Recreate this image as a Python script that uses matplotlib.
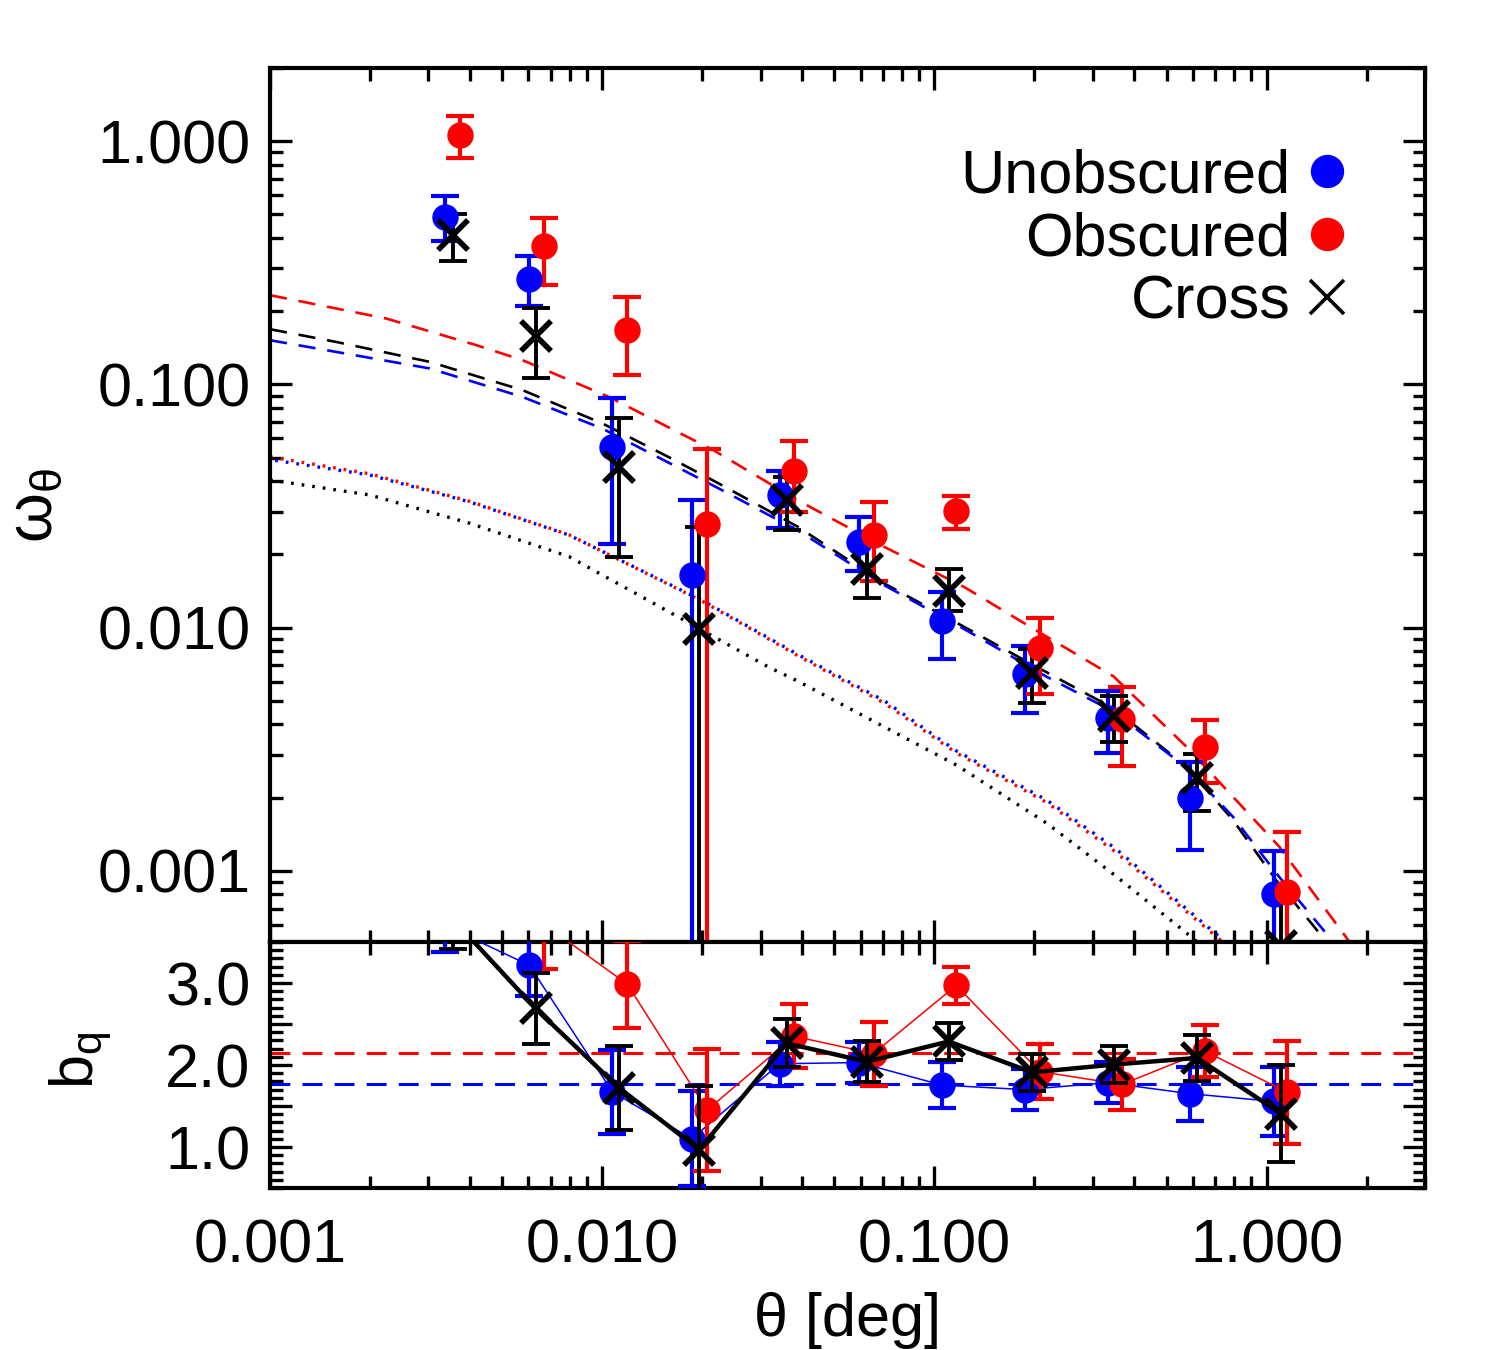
import matplotlib
matplotlib.use('Agg')
import matplotlib.pyplot as plt
import numpy as np
from matplotlib.lines import Line2D
from matplotlib.ticker import FixedLocator, NullFormatter, FuncFormatter, LogLocator, MultipleLocator

plt.rcParams['font.family'] = ['Liberation Sans', 'DejaVu Sans']
plt.rcParams['mathtext.fontset'] = 'custom'
plt.rcParams['mathtext.rm'] = 'Liberation Sans'
plt.rcParams['mathtext.it'] = 'Liberation Sans:italic'

OFF = 1e-6  # lower error bound off the axis

# ---------------- angular correlation data ----------------
theta_unobs = [0.00337, 0.00603, 0.01074, 0.0186, 0.0342, 0.0593, 0.1054, 0.187, 0.333, 0.589, 1.05]
w_unobs     = [0.487, 0.272, 0.0551, 0.0165, 0.0351, 0.0226, 0.0107, 0.00644, 0.00426, 0.0020, 0.0008]
w_unobs_hi  = [0.595, 0.336, 0.088, 0.0334, 0.0441, 0.0284, 0.014, 0.00837, 0.0055, 0.00281, 0.00121]
w_unobs_lo  = [0.387, 0.210, 0.0221, OFF, 0.0258, 0.0171, 0.00746, 0.00447, 0.00306, 0.00122, OFF]

theta_obs = [0.00373, 0.00667, 0.0119, 0.0207, 0.0378, 0.0656, 0.1164, 0.2075, 0.367, 0.652, 1.155]
w_obs     = [1.065, 0.372, 0.168, 0.0268, 0.044, 0.024, 0.0303, 0.00824, 0.0042, 0.00323, 0.00082]
w_obs_hi  = [1.27, 0.485, 0.228, 0.0545, 0.0585, 0.0328, 0.0347, 0.011, 0.00572, 0.00416, 0.00144]
w_obs_lo  = [0.857, 0.257, 0.109, OFF, 0.030, 0.0155, 0.0255, 0.00532, 0.00271, 0.00229, OFF]

theta_cross = [0.00355, 0.0063, 0.01125, 0.0196, 0.0359, 0.0626, 0.1104, 0.197, 0.348, 0.618, 1.105]
w_cross     = [0.412, 0.158, 0.0458, 0.0099, 0.0334, 0.0174, 0.0142, 0.00654, 0.00434, 0.00241, 0.00049]
w_cross_hi  = [0.502, 0.207, 0.0726, 0.0259, 0.0417, 0.0222, 0.0174, 0.0082, 0.00523, 0.00302, 0.000862]
w_cross_lo  = [0.322, 0.106, 0.0196, OFF, 0.0252, 0.0133, 0.0117, 0.0049, 0.00339, 0.00177, OFF]

# ---------------- bias data ----------------
b_unobs     = [3.70, 3.217, 1.672, 1.10, 2.015, 2.03, 1.755, 1.70, 1.784, 1.65, 1.556]
b_unobs_err = [0.325, 0.372, 0.51, 0.58, 0.27, 0.25, 0.28, 0.25, 0.25, 0.33, 0.42]
b_obs       = [5.0, 3.72, 2.986, 1.45, 2.35, 2.14, 2.97, 1.92, 1.763, 2.17, 1.667]
b_obs_err   = [0.6, 0.545, 0.53, 0.74, 0.39, 0.39, 0.23, 0.34, 0.31, 0.32, 0.63]
b_cross     = [3.78, 2.69, 1.72, 0.968, 2.265, 2.04, 2.287, 1.91, 2.006, 2.086, 1.407]
b_cross_err = [0.36, 0.43, 0.51, 0.77, 0.29, 0.25, 0.22, 0.23, 0.22, 0.28, 0.59]
b_obs_mean   = 2.148
b_unobs_mean = 1.772

# ---------------- model curves ----------------
mod_obs_dash_t = [0.001, 0.00224, 0.00417, 0.00575, 0.01047, 0.0216, 0.0388, 0.0706, 0.1227, 0.194, 0.346, 0.574, 1.091, 1.730, 2.14]
mod_obs_dash_w = [0.2328, 0.1866, 0.1452, 0.1259, 0.0889, 0.0537, 0.0334, 0.0215, 0.01472, 0.01009, 0.00631, 0.00324, 0.00126, 0.000537, 0.000355]
mod_cross_dash_t = [0.001, 0.00158, 0.00302, 0.00575, 0.01, 0.0158, 0.0224, 0.0388, 0.0706, 0.1227, 0.194, 0.346, 0.574, 0.792, 1.069, 1.442, 1.778]
mod_cross_dash_w = [0.1687, 0.1496, 0.1239, 0.0948, 0.0692, 0.0504, 0.0392, 0.026, 0.0152, 0.01009, 0.00714, 0.00466, 0.00268, 0.00162, 0.000916, 0.000555, 0.00038]
mod_unobs_dash_t = [0.001, 0.00302, 0.00575, 0.01, 0.0224, 0.0388, 0.0706, 0.1227, 0.218, 0.346, 0.574, 0.792, 1.091, 1.51, 1.82]
mod_unobs_dash_w = [0.152, 0.1164, 0.0889, 0.0659, 0.0374, 0.0251, 0.01496, 0.00989, 0.00628, 0.00452, 0.00266, 0.00167, 0.000946, 0.000555, 0.00038]

mod_dot_t = [0.001, 0.002, 0.00398, 0.00794, 0.01995, 0.0388, 0.0706, 0.1167, 0.218, 0.351, 0.72, 1.0]
mod_unobs_dot_w = [0.0491, 0.0424, 0.0329, 0.02404, 0.01297, 0.00776, 0.00501, 0.00311, 0.001954, 0.001236, 0.000537, 0.000355]
mod_obs_dot_w   = [0.0504, 0.0429, 0.0331, 0.0241, 0.01288, 0.00767, 0.0049, 0.00305, 0.00191, 0.001197, 0.000525, 0.000347]
mod_cross_dot_t = [0.001, 0.002, 0.00398, 0.00794, 0.01585, 0.0316, 0.0388, 0.1167, 0.218, 0.351, 0.592, 0.794]
mod_cross_dot_w = [0.0405, 0.0351, 0.0269, 0.0196, 0.01164, 0.0069, 0.00603, 0.00272, 0.00157, 0.000955, 0.000537, 0.00038]

# ---------------- figure ----------------
fig = plt.figure(figsize=(15, 13.5), dpi=100)
ax1 = fig.add_axes([0.18, 0.30222, 0.77, 0.64741])
ax2 = fig.add_axes([0.18, 0.12, 0.77, 0.18222])

BLUE, RED, BLACK = '#0000ff', '#ff0000', '#000000'

# model curves
dash = (0, (6.5, 4.5))
ax1.plot(mod_obs_dash_t, mod_obs_dash_w, color=RED, lw=1.9, ls=dash)
ax1.plot(mod_cross_dash_t, mod_cross_dash_w, color=BLACK, lw=1.9, ls=dash)
ax1.plot(mod_unobs_dash_t, mod_unobs_dash_w, color=BLUE, lw=1.9, ls=dash)
ax1.plot(mod_dot_t, mod_obs_dot_w, color=RED, lw=2.4, ls=(0, (0.8, 2.4)))
ax1.plot(mod_dot_t, mod_unobs_dot_w, color=BLUE, lw=2.4, ls=(1.6, (0.8, 2.4)))
ax1.plot(mod_cross_dot_t, mod_cross_dot_w, color=BLACK, lw=2.4, ls=(0, (0.8, 2.4)))


def eb_log(ax, x, y, lo, hi, color, lw=3.0):
    y = np.asarray(y)
    yerr = [y - np.asarray(lo), np.asarray(hi) - y]
    ax.errorbar(x, y, yerr=yerr, fmt='none', ecolor=color, elinewidth=lw,
                capsize=10, capthick=lw, zorder=3)


eb_log(ax1, theta_unobs, w_unobs, w_unobs_lo, w_unobs_hi, BLUE)
ax1.plot(theta_unobs, w_unobs, 'o', color=BLUE, ms=18, zorder=4)
eb_log(ax1, theta_obs, w_obs, w_obs_lo, w_obs_hi, RED)
ax1.plot(theta_obs, w_obs, 'o', color=RED, ms=18, zorder=4)
eb_log(ax1, theta_cross, w_cross, w_cross_lo, w_cross_hi, BLACK, lw=2.8)
ax1.plot(theta_cross, w_cross, 'x', color=BLACK, ms=21, mew=4, zorder=5)

# bottom panel
ax2.axhline(b_obs_mean, color=RED, lw=2.2, ls=(0, (6.5, 4)))
ax2.axhline(b_unobs_mean, color=BLUE, lw=2.2, ls=(0, (6.5, 4)))
ax2.plot(theta_unobs, b_unobs, '-', color=BLUE, lw=1.1, zorder=3)
ax2.errorbar(theta_unobs, b_unobs, yerr=b_unobs_err, fmt='none', ecolor=BLUE,
             elinewidth=3, capsize=10, capthick=3, zorder=3)
ax2.plot(theta_unobs, b_unobs, 'o', color=BLUE, ms=18, zorder=4)
ax2.plot(theta_obs, b_obs, '-', color=RED, lw=1.1, zorder=3)
ax2.errorbar(theta_obs, b_obs, yerr=b_obs_err, fmt='none', ecolor=RED,
             elinewidth=3, capsize=10, capthick=3, zorder=3)
ax2.plot(theta_obs, b_obs, 'o', color=RED, ms=18, zorder=4)
ax2.plot(theta_cross, b_cross, '-', color=BLACK, lw=3.2, zorder=5)
ax2.errorbar(theta_cross, b_cross, yerr=b_cross_err, fmt='none', ecolor=BLACK,
             elinewidth=2.8, capsize=10, capthick=2.8, zorder=5)
ax2.plot(theta_cross, b_cross, 'x', color=BLACK, ms=21, mew=4, zorder=6)

# axes setup
for ax in (ax1, ax2):
    ax.set_xscale('log')
    ax.set_xlim(0.001, 3.0)
    for s in ax.spines.values():
        s.set_linewidth(3)
    ax.tick_params(which='major', direction='in', length=16, width=2.4,
                   top=True, right=True, labelsize=44, pad=14)
    ax.tick_params(which='minor', direction='in', length=9, width=2.4,
                   top=True, right=True)
    ax.xaxis.set_major_locator(FixedLocator([0.001, 0.01, 0.1, 1.0]))
    ax.xaxis.set_minor_locator(LogLocator(base=10, subs=np.arange(2, 10), numticks=20))
    ax.xaxis.set_minor_formatter(NullFormatter())

ax2.tick_params(axis='x', which='major', pad=22)

ax1.set_yscale('log')
ax1.set_ylim(5.1e-4, 2.0)
ax1.yaxis.set_major_locator(FixedLocator([0.001, 0.01, 0.1, 1.0]))
ax1.yaxis.set_minor_locator(LogLocator(base=10, subs=np.arange(2, 10), numticks=20))
ax1.yaxis.set_minor_formatter(NullFormatter())
ax1.yaxis.set_major_formatter(FuncFormatter(lambda v, p: '%.3f' % v))
ax1.xaxis.set_major_formatter(NullFormatter())

ax2.set_ylim(0.5, 3.5)
ax2.yaxis.set_major_locator(FixedLocator([1.0, 1.5, 2.0, 2.5, 3.0]))
ax2.yaxis.set_minor_locator(MultipleLocator(0.1))
ax2.yaxis.set_major_formatter(FuncFormatter(lambda v, p: ('%.1f' % v) if abs(v - round(v)) < 1e-6 else ''))
ax2.xaxis.set_major_formatter(FuncFormatter(lambda v, p: '%.3f' % v))

ax1.set_ylabel(r'$\mathrm{\omega_\theta}$', fontsize=46)
ax1.yaxis.set_label_coords(-0.178, 0.5)
ax2.set_ylabel(r'b$_\mathrm{q}$', fontsize=44)
ax2.yaxis.set_label_coords(-0.135, 0.52)
ax2.set_xlabel(r'θ [deg]', fontsize=44, labelpad=12)

# legend
handles = [
    Line2D([], [], marker='o', color=BLUE, ls='none', ms=23),
    Line2D([], [], marker='o', color=RED, ls='none', ms=23),
    Line2D([], [], marker='x', color=BLACK, ls='none', ms=25, mew=2.6),
]
ax1.legend(handles, ['Unobscured', 'Obscured', 'Cross'], loc='upper right',
           bbox_to_anchor=(0.931, 0.908), frameon=False, markerfirst=False,
           fontsize=44, handlelength=0.6, handletextpad=0.3, labelspacing=0.1,
           borderpad=0, borderaxespad=0)

fig.savefig('out.png', dpi=100)
